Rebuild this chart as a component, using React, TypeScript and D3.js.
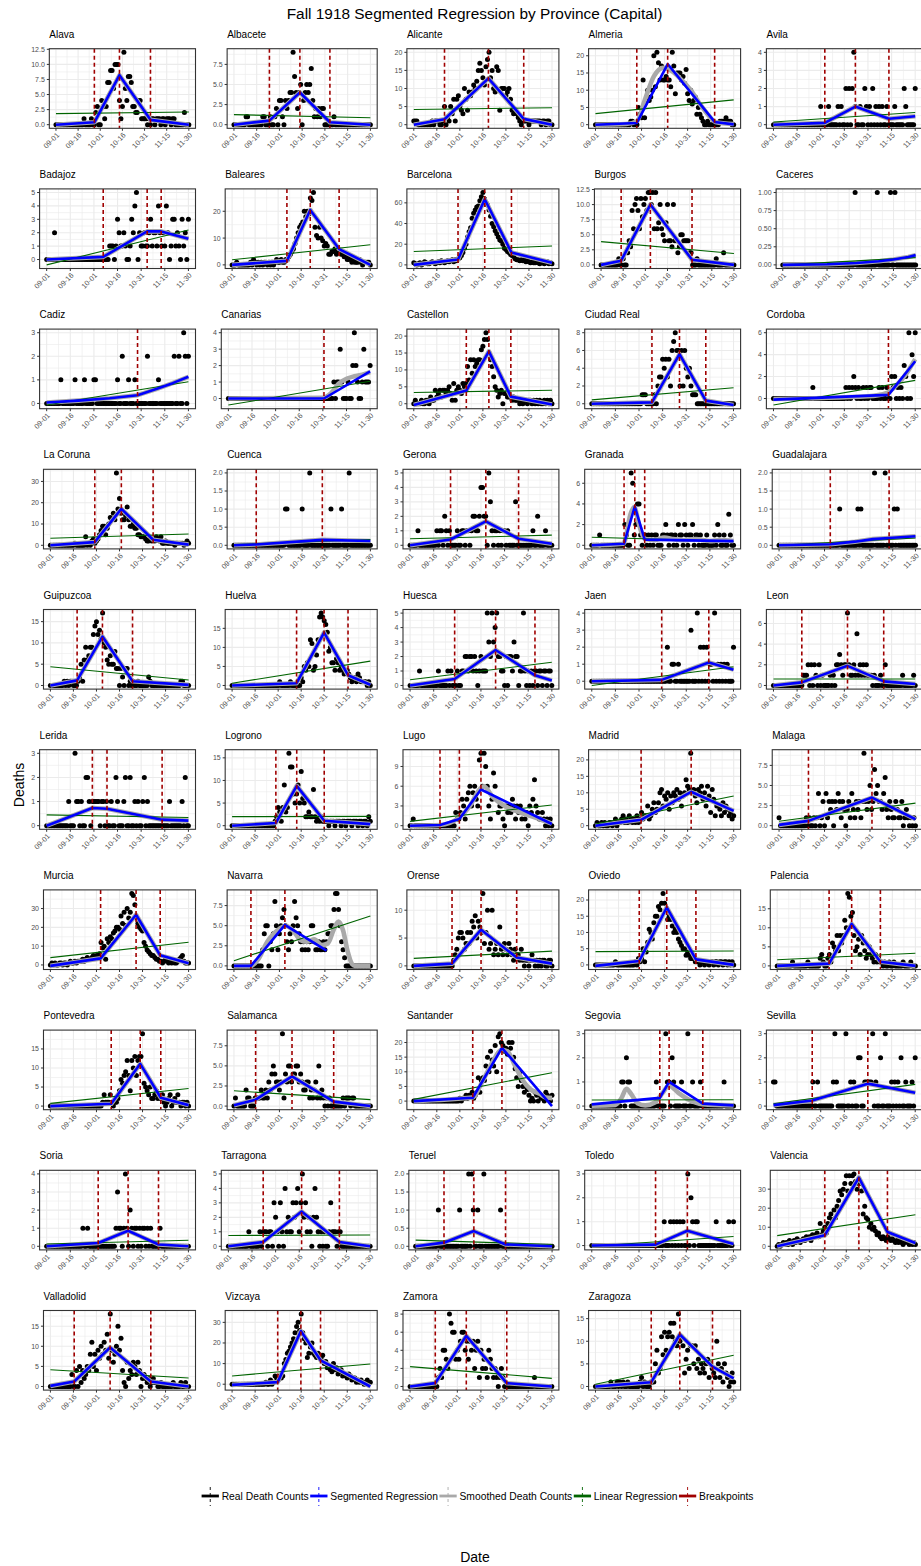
import React from "react";
import * as d3 from "d3";

// ---------------------------------------------------------------------------
// Data: Fall 1918 influenza deaths in Spanish provincial capitals.
// Day index 0 = 1 September 1918, day 90 = 30 November 1918.
// ---------------------------------------------------------------------------

const PROVINCES = [
  "Alava", "Albacete", "Alicante", "Almeria", "Avila",
  "Badajoz", "Baleares", "Barcelona", "Burgos", "Caceres",
  "Cadiz", "Canarias", "Castellon", "Ciudad Real", "Cordoba",
  "La Coruna", "Cuenca", "Gerona", "Granada", "Guadalajara",
  "Guipuzcoa", "Huelva", "Huesca", "Jaen", "Leon",
  "Lerida", "Logrono", "Lugo", "Madrid", "Malaga",
  "Murcia", "Navarra", "Orense", "Oviedo", "Palencia",
  "Pontevedra", "Salamanca", "Santander", "Segovia", "Sevilla",
  "Soria", "Tarragona", "Teruel", "Toledo", "Valencia",
  "Valladolid", "Vizcaya", "Zamora", "Zaragoza",
];

// Daily death counts (91 days per province)
const DAILY_DEATHS = [
  "0 0 0 0 0 0 0 0 0 0  0 0 0 0 0 0 0 0 0 1  0 0 0 0 1 0 0 2 3 0  0 4 3 1 3 7 7 9 9 6  10 10 10 4 1 3 12 6 4 8  8 7 3 3 2 2 4 4 1 1  1 1 0 1 0 1 1 0 1 1  1 0 1 1 0 1 1 1 0 1  1 0 0 0 0 0 0 2 0 0 0",
  "0 0 0 0 0 0 0 0 1 1  0 0 0 0 0 0 0 0 0 1  1 0 0 0 1 0 0 1 2 0  3 3 1 0 3 2 3 4 4 9  6 4 2 4 5 0 3 4 5 4  5 7 3 1 2 1 2 1 2 2  0 0 0 0 0 0 1 0 0 0  0 0 0 0 0 0 0 0 0 0  0 0 0 0 0 0 0 0 0 0 0",
  "1 1 1 0 0 0 0 0 0 0  0 0 1 0 1 1 1 0 0 1  5 0 2 1 5 3 7 1 7 8  5 4 3 10 7 4 9 8 9 11  10 12 15 17 15 13 11 16 18 20  13 15 10 9 16 15 4 10 10 10  8 9 10 7 4 3 4 3 2 1  0 1 1 1 1 0 1 1 1 1  1 1 1 0 1 1 0 1 1 0 0",
  "0 0 0 0 0 0 0 0 0 0  0 0 0 0 0 0 0 0 0 0  0 0 0 1 1 0 0 0 5 3  2 13 2 7 10 7 8 10 20 11  21 18 13 17 13 13 14 13 13 11  21 17 9 15 15 15 13 14 12 16  9 7 10 6 7 8 3 5 3 2  1 0 0 1 0 0 0 0 0 0  0 1 1 1 1 2 1 1 1 0 0",
  "0 0 0 0 0 0 0 0 0 0  0 0 0 0 0 0 0 0 0 0  0 0 0 0 0 0 0 0 0 0  1 0 0 0 0 1 0 0 0 0  0 1 0 1 0 0 2 0 2 0  2 4 1 0 0 1 0 0 2 1  0 1 0 2 0 1 0 1 0 1  0 0 1 0 0 0 0 1 0 0  0 0 0 2 1 0 0 0 0 0 2",
  "0 0 0 0 0 2 0 0 0 0  0 0 0 0 0 0 0 0 0 0  0 0 0 0 0 0 0 0 0 0  0 0 0 0 0 0 0 0 0 0  1 1 1 0 1 3 2 1 1 2  1 0 0 1 3 2 4 5 0 2  1 1 2 1 1 2 3 1 2 2  1 4 2 1 2 1 4 2 0 1  3 3 1 2 1 0 3 1 2 0 3",
  "0 0 0 1 0 0 0 0 0 0  0 0 1 0 2 1 0 1 0 1  0 1 1 0 1 0 1 0 1 2  1 1 2 1 1 2 2 3 4 5  6 8 10 12 14 15 16 20 18 20  19 25 24 27 14 11 10 14 10 9  7 8 7 4 4 5 5 6 4 5  5 4 4 3 3 2 2 3 1 2  1 1 1 2 1 0 1 1 1 1 0",
  "2 1 0 1 2 0 1 3 2 1  1 2 3 2 1 2 3 2 4 3  2 3 4 3 4 5 3 5 4 6  7 9 12 16 20 27 32 36 45 50  53 56 57 62 66 70 64 60 58 53  47 40 37 33 30 27 24 23 20 16  15 13 12 10 9 8 6 5 5 4  5 4 5 3 4 3 2 3 2 2  3 2 1 2 2 1 2 3 1 2 1",
  "0 0 0 0 0 0 0 0 0 0  0 0 1 0 0 1 0 0 2 4  3 9 6 10 11 9 6 11 8 10  11 9 12 12 10 12 6 12 6 7  10 6 5 4 7 10 4 4 3 10  4 4 2 3 5 5 4 4 4 4  2 2 0 0 0 1 0 0 0 0  0 0 0 0 0 0 0 0 1 0  0 0 0 2 0 0 0 0 0 0 0",
  "0 0 0 0 0 0 0 0 0 0  0 0 0 0 0 0 0 0 0 0  0 0 0 0 0 0 0 0 0 0  0 0 0 0 0 0 0 0 0 0  0 0 0 0 0 0 0 0 0 1  0 0 0 0 0 0 0 0 0 0  0 0 0 0 1 0 0 0 0 0  0 0 0 1 0 0 1 0 0 0  0 0 0 0 0 0 0 0 0 0 0",
  "0 0 0 0 0 0 0 0 0 1  0 0 0 0 0 0 0 0 1 0  0 0 0 0 1 0 0 0 0 0  1 1 0 0 0 0 0 0 0 0  0 0 0 0 0 1 0 0 2 0  0 0 1 0 0 0 1 0 0 0  0 0 0 0 2 0 0 0 0 0  0 1 0 0 0 0 0 0 0 0  0 2 0 0 2 0 0 3 2 0 2",
  "0 0 0 0 0 0 0 0 0 0  0 0 0 0 0 0 0 0 0 0  0 0 0 0 0 0 0 0 0 0  0 0 0 0 0 0 0 0 0 0  0 0 0 0 0 0 0 0 0 0  0 0 0 0 0 0 0 0 0 0  0 0 0 0 0 0 0 1 0 1  1 3 1 0 0 0 1 0 0 2  4 2 1 0 0 1 3 1 1 1 2",
  "0 1 0 0 0 1 0 0 1 1  0 2 1 1 4 2 3 4 2 4  4 3 4 5 3 1 6 1 4 5  4 3 6 5 6 11 7 13 9 13  11 12 13 13 16 17 19 21 19 15  13 11 8 5 4 2 3 4 0 3  3 2 2 2 1 2 1 1 1 0  1 0 1 1 0 1 1 0 1 0  1 0 1 0 0 1 0 1 0 1 0",
  "0 0 0 0 0 0 0 0 0 0  0 0 0 0 0 0 0 0 0 0  0 0 0 0 0 0 0 0 0 0  0 0 1 1 1 0 0 0 0 0  1 0 2 3 3 5 4 5 3 5  2 6 7 8 6 6 2 6 2 6  4 3 4 2 1 1 1 0 0 0  0 0 0 0 0 0 0 0 0 0  0 0 0 0 0 0 0 0 0 0 0",
  "0 0 0 0 0 0 0 0 0 0  0 0 0 0 0 0 0 0 0 0  0 0 0 0 0 1 0 0 0 0  0 0 0 0 0 0 0 0 0 0  0 0 0 0 0 0 1 0 1 0  1 2 1 0 1 0 0 1 0 1  0 1 1 0 0 0 0 1 0 1  0 0 1 0 0 2 1 2 0 1  0 1 0 3 2 0 6 0 4 2 6",
  "0 0 0 0 0 0 0 0 0 0  0 0 0 0 0 0 1 0 0 0  0 0 0 4 0 1 0 2 3 1  2 3 5 7 9 9 5 8 10 13  12 15 12 34 17 22 15 12 12 14  18 12 9 9 10 8 8 5 5 4  4 4 3 2 2 3 2 3 2 4  3 2 4 1 1 2 1 1 1 1  1 0 1 1 1 1 1 0 1 2 1",
  "0 0 0 0 0 0 0 0 0 0  0 0 0 0 0 0 0 0 0 0  0 0 0 0 0 0 0 0 0 0  0 0 0 0 1 1 0 0 0 0  0 0 0 0 0 1 0 0 0 0  2 0 0 0 0 0 0 0 0 0  0 0 0 0 1 0 0 0 0 0  0 1 0 0 0 0 2 0 0 0  0 0 0 0 0 0 0 0 0 0 0",
  "0 0 0 0 0 1 0 0 0 0  0 0 0 0 0 0 0 1 0 1  1 0 2 1 0 1 0 0 0 0  1 0 0 1 1 0 1 1 0 1  2 2 1 1 2 4 4 2 2 0  5 3 1 0 1 1 0 1 0 1  1 0 1 0 0 0 0 3 0 0  0 0 0 0 0 0 0 0 1 0  0 2 0 0 0 0 1 0 0 0 0",
  "0 0 0 0 0 1 0 0 0 0  0 0 0 0 0 0 0 0 0 0  0 2 1 0 0 7 6 1 2 4  4 1 0 1 1 0 1 0 1 0  1 1 0 0 0 1 1 2 1 0  1 1 0 1 0 2 1 1 0 2  1 0 1 1 2 0 1 1 0 1  0 0 0 1 0 0 0 0 1 0  2 1 0 0 1 0 0 3 1 0 0",
  "0 0 0 0 0 0 0 0 0 0  0 0 0 0 0 0 0 0 0 0  0 0 0 0 0 0 0 0 0 0  0 0 0 0 0 0 0 0 0 0  1 0 0 0 0 0 0 0 0 0  0 0 1 0 1 0 0 0 0 0  0 0 0 2 0 0 0 0 0 0  2 0 0 0 0 0 1 0 1 0  0 0 0 0 0 0 0 0 0 0 0",
  "0 0 0 0 0 0 0 0 0 1  0 1 0 1 1 0 0 0 1 2  5 1 6 9 6 7 9 9 12 14  15 12 13 11 17 10 9 6 5 7  5 5 8 4 4 0 4 2 0 4  4 0 1 0 1 0 0 1 0 0  0 0 0 0 2 1 0 0 0 0  0 0 0 0 0 0 0 0 0 0  0 0 0 0 0 1 1 0 0 0 0",
  "0 0 0 0 0 0 0 0 0 0  0 0 0 0 0 0 0 0 0 0  0 0 0 0 0 0 0 0 0 0  0 1 0 0 0 0 0 0 1 0  0 0 0 0 0 2 1 5 4 6  5 12 11 4 5 8 12 18 19 18  17 16 14 9 10 6 6 4 7 6  4 5 4 3 4 4 3 2 1 2  2 1 3 2 1 1 1 1 0 1 0",
  "0 0 0 0 0 0 1 0 0 0  0 0 0 0 0 0 0 0 1 0  0 0 0 0 1 0 1 0 0 0  1 0 0 1 1 2 2 1 2 2  1 2 1 0 1 2 1 1 1 5  3 2 5 3 4 5 2 2 1 1  0 2 0 2 2 1 3 2 2 0  1 1 5 1 0 1 0 1 0 1  1 0 1 1 0 1 1 0 1 1 0",
  "0 0 0 0 0 0 0 0 0 0  0 0 0 0 0 0 0 0 0 0  0 0 0 0 0 0 0 0 0 0  0 0 0 0 0 0 0 0 0 0  0 0 0 0 0 0 0 0 2 0  0 1 1 0 0 1 0 0 0 0  0 0 0 3 0 0 0 4 0 2  0 2 0 2 0 1 1 0 4 0  1 0 1 0 1 0 1 0 0 0 2",
  "0 0 0 0 0 0 0 0 0 0  0 0 0 0 0 0 0 0 0 1  1 1 2 0 2 0 2 1 0 2  0 1 0 0 0 0 1 0 1 0  2 2 3 2 1 2 2 7 2 1  1 2 1 5 1 2 1 2 1 2  1 1 1 0 1 0 0 0 1 0  0 2 0 0 0 0 0 0 0 0  0 0 1 0 0 0 0 0 0 1 0",
  "0 0 0 0 0 0 0 0 0 0  0 0 0 0 1 0 0 0 3 1  1 0 1 0 0 2 2 1 0 1  1 1 1 1 0 1 1 0 1 0  0 1 0 0 2 1 0 0 0 1  2 0 0 2 0 0 1 0 1 0  0 1 2 0 1 0 0 0 0 0  0 0 0 0 0 0 0 0 1 0  0 0 0 0 0 0 1 0 2 0 0",
  "0 0 0 0 0 0 0 0 0 0  0 0 0 0 0 0 0 0 0 0  0 0 0 0 0 0 0 0 1 2  4 3 1 4 9 3 4 16 13 13  7 5 7 9 5 12 6 5 2 2  3 2 2 8 2 1 2 1 2 1  1 1 1 0 1 1 1 0 1 1  1 0 1 1 0 1 1 1 0 1  1 1 0 1 1 0 1 1 0 2 1",
  "0 0 1 0 0 0 0 0 0 0  0 0 0 0 0 0 0 0 0 0  0 0 0 0 0 0 0 0 0 2  1 1 2 4 3 1 4 5 6 3  5 6 4 3 10 11 6 11 9 6  3 1 4 8 6 4 2 3 3 1  0 3 2 3 2 4 3 1 3 2  3 1 2 1 2 0 3 2 4 7  3 2 1 1 2 1 0 1 0 1 0",
  "0 1 0 0 1 0 1 0 0 1  1 0 1 2 0 1 1 2 3 1  2 1 3 2 1 2 1 3 1 2  4 2 3 3 6 2 3 5 7 4  5 7 10 11 6 9 8 10 5 9  7 10 9 11 8 10 6 9 10 14  12 11 22 10 11 9 7 11 10 12  8 10 6 12 9 4 11 8 3 6  6 5 3 7 4 6 5 3 4 2 3",
  "1 0 0 0 0 0 0 0 0 0  0 0 0 0 0 0 0 0 1 0  1 0 0 1 0 1 4 0 1 3  0 4 1 3 2 3 0 3 2 4  3 1 3 2 0 2 3 1 4 2  1 3 2 3 1 3 9 3 2 3  5 2 3 7 4 5 3 3 2 4  6 2 1 3 2 1 1 3 2 1  1 3 0 1 2 1 0 1 0 1 0",
  "0 1 0 1 0 0 1 1 0 1  1 0 1 2 1 1 2 1 2 2  2 3 2 3 4 3 3 4 5 4  5 4 6 12 9 10 3 14 12 15  14 17 18 20 20 19 26 22 28 21  30 25 28 38 37 32 25 22 20 19  18 12 10 8 7 6 5 5 4 3  3 2 2 1 2 3 2 1 2 1  2 1 1 2 3 4 5 2 1 1 1",
  "0 0 0 0 0 0 0 0 0 0  0 0 0 0 0 0 0 0 0 2  4 5 5 0 3 2 4 8 5 2  4 5 6 7 5 3 2 4 3 5  8 6 5 4 3 2 3 2 3 2  3 5 5 3 2 2 3 2 2 3  2 3 4 4 5 5 7 9 9 7  5 3 2 1 0 0 0 0 0 0  0 0 0 0 0 0 0 0 0 0 0",
  "0 0 0 0 0 0 0 0 0 0  0 0 0 0 0 0 0 0 0 0  0 0 0 0 0 0 1 2 3 5  6 6 5 3 4 6 4 6 8 7  9 5 8 7 6 13 4 6 10 3  4 10 2 3 4 2 7 3 2 4  3 2 4 3 2 1 3 2 2 1  3 1 0 1 1 0 1 2 1 0  1 0 1 0 1 1 0 0 1 1 0",
  "0 0 0 0 0 0 0 0 0 0  0 0 0 1 0 0 0 0 0 0  0 0 0 0 0 0 1 0 2 1  2 5 1 4 7 11 10 8 13 15  15 18 17 19 22 19 17 14 15 14  12 10 11 10 8 7 6 5 5 3  4 3 2 2 2 1 1 1 0 1  1 0 1 1 0 1 1 0 1 1  0 1 1 0 1 1 0 1 0 1 0",
  "0 0 0 0 0 0 0 0 0 0  1 0 0 0 0 0 0 0 0 0  1 0 0 0 0 0 0 0 2 3  1 0 0 2 3 1 6 5 4 8  4 8 6 8 12 10 19 18 13 14  8 4 5 7 3 8 6 4 2 3  5 3 2 1 3 1 2 1 1 0  1 0 0 1 0 0 1 0 0 0  0 0 1 0 0 0 0 1 0 0 0",
  "0 0 0 0 0 0 0 0 0 0  0 0 0 0 0 0 0 0 0 0  0 0 0 0 0 0 0 0 0 0  0 0 0 0 1 3 1 1 1 3  1 0 1 1 2 4 7 6 8 9  12 8 4 12 10 13 8 12 13 13  19 6 5 4 3 5 2 2 3 4  2 3 2 3 1 0 1 2 3 0  1 2 1 3 1 0 1 1 0 1 0",
  "0 1 0 0 0 0 0 0 2 1  1 0 0 0 1 1 1 1 2 1  1 2 1 3 2 4 5 4 3 3  2 3 9 1 4 3 5 5 3 4  4 5 5 3 4 3 2 2 3 3  1 2 1 2 3 1 5 1 2 1  0 1 0 1 0 0 0 0 0 0  0 0 1 0 1 1 1 0 1 1  0 0 0 0 0 0 0 0 0 0 0",
  "0 0 0 0 0 0 0 0 0 0  0 0 0 0 0 0 0 0 0 0  0 0 0 0 0 0 0 0 0 0  1 0 1 1 2 1 2 2 3 1  2 3 8 3 7 8 7 12 15 10  17 14 12 19 10 22 23 20 19 17  18 16 20 18 20 15 11 8 5 10  7 5 3 5 4 2 0 1 0 3  2 0 2 1 1 0 3 2 1 0 2",
  "0 0 0 0 0 0 0 0 0 0  0 0 0 0 0 0 0 0 0 1  1 0 2 1 1 0 0 0 0 0  0 0 0 0 0 0 0 0 0 0  0 1 0 0 0 0 0 3 1 1  0 2 1 0 0 0 0 1 0 0  0 3 0 0 1 0 0 0 0 1  0 0 0 0 0 0 0 0 0 0  0 0 0 0 1 0 0 0 0 0 0",
  "1 1 0 0 0 0 0 0 0 0  0 0 0 0 0 0 0 0 0 0  0 0 0 0 0 1 0 0 1 0  0 0 0 0 0 0 0 0 1 3  1 0 0 0 0 0 3 0 0 1  0 1 0 0 2 2 0 0 1 1  1 1 1 3 0 1 0 0 2 0  0 3 0 0 0 1 0 1 0 1  0 2 0 0 1 0 0 0 1 0 2",
  "0 0 0 0 0 0 0 0 0 0  0 0 0 0 0 0 0 0 0 0  0 0 0 1 0 0 1 0 0 0  0 0 0 0 0 0 0 0 0 0  0 0 0 0 1 3 1 1 0 1  4 1 0 2 1 0 1 1 0 1  0 1 1 0 1 0 1 0 0 0  0 0 1 0 0 0 0 0 0 0  0 0 0 0 0 0 0 0 0 0 0",
  "0 0 0 0 0 0 0 0 0 0  0 0 0 1 0 0 0 0 0 0  1 0 1 1 1 0 1 1 0 3  2 1 0 3 1 0 4 1 2 1  1 3 2 3 4 1 3 5 2 3  1 2 1 0 2 4 2 1 0 1  0 1 0 0 1 3 1 1 1 0  1 1 0 0 0 0 0 0 0 0  0 0 0 0 0 0 0 0 0 0 0",
  "0 0 0 0 0 0 0 0 0 0  0 0 0 0 0 1 0 0 0 0  0 0 0 0 0 0 0 0 0 1  0 0 0 0 0 2 0 2 1 0  0 1 0 0 0 2 0 0 0 0  0 0 0 0 0 0 1 0 0 0  0 0 0 0 0 0 0 0 0 0  0 0 0 0 0 0 0 0 0 0  0 0 0 0 0 0 0 0 0 0 0",
  "0 0 0 0 0 0 0 0 0 0  0 0 0 0 0 0 0 0 0 0  0 0 0 0 0 0 0 0 0 0  0 0 0 0 0 0 0 0 0 0  0 0 0 0 0 0 1 0 0 0  1 0 1 0 1 0 1 0 1 0  0 3 0 2 1 0 1 1 0 0  0 0 0 0 0 0 0 0 0 1  0 0 0 0 0 0 0 1 0 0 1",
  "0 1 0 1 2 1 2 1 3 2  1 3 2 4 3 2 3 4 3 5  4 5 3 6 5 6 7 5 12 6  8 10 7 12 15 17 14 19 15 21  24 29 27 30 33 37 29 37 33 37  38 34 30 33 33 29 17 21 15 14  10 12 9 10 8 6 7 5 4 5  4 3 5 4 3 4 3 2 3 2  3 2 1 2 3 2 1 2 1 2 1",
  "0 0 0 0 0 0 0 0 0 0  0 0 0 0 3 0 0 4 0 5  1 4 2 3 5 4 8 11 5 8  4 9 7 10 8 11 9 13 7 18  9 6 8 10 15 9 12 4 1 0  6 2 4 3 6 5 3 6 4 0  2 3 2 1 2 0 1 2 1 1  0 0 1 0 0 0 0 0 0 0  1 0 0 0 0 1 0 0 1 0 0",
  "0 0 0 0 0 0 0 0 0 0  0 0 0 0 0 0 0 0 0 0  0 0 1 0 0 2 0 1 4 3  2 4 3 4 10 12 15 16 18 20  22 25 28 30 26 34 25 22 20 13  15 18 20 15 14 13 15 14 13 14  10 11 8 9 7 6 10 7 8 5  6 7 4 5 4 3 5 4 2 3  3 1 2 1 2 1 0 1 2 1 1",
  "0 0 0 0 0 0 0 0 0 0  0 0 0 0 0 0 0 0 1 2  1 4 4 3 2 8 7 6 6 3  4 3 5 6 6 4 5 3 5 4  5 2 4 5 1 4 2 3 2 1  4 3 2 1 2 1 0 1 2 1  0 0 0 0 0 0 0 0 0 0  0 0 0 0 0 0 0 0 0 1  0 0 0 0 0 0 0 0 0 0 0",
  "0 0 0 0 0 0 0 0 0 0  1 0 0 0 1 0 1 0 1 0  0 1 0 0 0 0 0 0 0 1  2 0 1 0 0 0 1 1 1 5  8 3 4 11 7 12 8 11 12 14  11 14 10 9 16 10 11 9 3 6  8 4 9 9 5 9 4 6 3 5  4 3 5 6 2 5 4 3 2 10  5 2 4 1 5 3 2 0 1 3 1",
];

// Estimated breakpoints (day index)
const BREAKPOINTS: number[][] = [
  [26, 43, 64], [23.4, 43.5, 63.3], [20, 48.6, 71.6], [26.9, 47, 77.6], [32.6, 52, 73.3],
  [35.9, 63.8, 72.7], [35.7, 50.9, 69.7], [28.8, 46.2, 63.6], [13.6, 33.4, 61.6], [],
  [57.7], [60.7], [34.2, 48.9, 63.2], [38.2, 55.7, 72.4], [73],
  [28.9, 46.2, 66.9], [14.7, 58.3], [25.7, 48.1, 68.9], [20.5, 27.3, 33.6], [33.8, 72.6],
  [17.4, 33.9, 53.5], [42, 59.9, 75.5], [28.3, 54.3, 79.3], [44.4, 74.3], [18, 47, 70],
  [29, 38.3, 73.3], [28.5, 42.1, 60], [19, 31.3, 45], [29.7, 62.3], [19.4, 61.3],
  [32.7, 55.8, 71.5], [11.2, 33.6], [24.9, 43.8, 67], [28.5, 46.4, 65.4], [33.8, 48.5, 67.2],
  [39.6, 58.5, 71.9], [14.3, 38.3, 65.8], [38.4, 57.4], [43.2, 49.1, 70.5], [24.6, 59.9],
  [32.7, 51.7, 71], [22.1, 46.5, 70.5], [18.7, 38.4, 59.3], [40.5, 60.7], [31, 53.2, 71.8],
  [15.5, 38.9, 65.4], [29.7, 44.8, 57.6], [16, 35.7, 61.4], [36.3, 54.9, 76.2],
];

// Segmented regression fit: [day, deaths] vertices
const SEGMENTED: [number, number][][] = [
  [[0, 0], [26, 0.4], [43, 8.2], [64, 0.8], [90, 0]],
  [[0, 0], [23.4, 0.5], [43.5, 4.0], [63.3, 0.3], [90, 0]],
  [[0, 0], [20, 1.5], [48.6, 12.8], [71.6, 1.6], [90, 0]],
  [[0, 0], [26.9, 0.5], [47, 17.6], [77.6, 0.8], [90, 0.1]],
  [[0, 0], [32.6, 0.1], [52, 1.0], [73.3, 0.33], [90, 0.47]],
  [[0, 0], [35.9, 0.2], [63.8, 2.1], [72.7, 2.1], [90, 1.55]],
  [[0, 0], [35.7, 1.5], [50.9, 20.5], [69.7, 5.9], [90, 0]],
  [[0, 0], [28.8, 5.2], [46.2, 63.5], [63.6, 12], [90, 2]],
  [[0, 0], [13.6, 0.7], [33.4, 10], [61.6, 0.85], [90, 0]],
  [[0, 0], [30, 0.008], [50, 0.025], [65, 0.05], [75, 0.075], [85, 0.11], [90, 0.135]],
  [[0, 0.04], [20, 0.12], [40, 0.22], [57.7, 0.35], [70, 0.62], [80, 0.86], [90, 1.13]],
  [[0, 0], [60.7, 0], [90, 1.65]],
  [[0, -0.4], [34.2, 3.9], [48.9, 15.5], [63.2, 2.1], [90, -0.2]],
  [[0, 0], [38.2, 0.15], [55.7, 5.6], [72.4, 0.35], [90, -0.15]],
  [[0, -0.1], [73, 0.33], [90, 3.4]],
  [[0, 0], [28.9, 1.5], [46.2, 17.1], [66.9, 2.6], [90, 0.3]],
  [[0, 0], [14.7, 0.02], [58.3, 0.15], [90, 0.12]],
  [[0, 0], [25.7, 0.4], [48.1, 1.65], [68.9, 0.45], [90, 0.1]],
  [[0, 0], [20.5, 0.15], [27.3, 3.75], [33.6, 0.55], [90, 0.4]],
  [[0, 0], [33.8, 0.03], [50, 0.1], [62, 0.17], [72.6, 0.2], [90, 0.25]],
  [[0, 0], [17.4, 1.2], [33.9, 11.5], [53.5, 1.0], [90, 0.15]],
  [[0, 0], [42, 0.6], [59.9, 13.9], [75.5, 2.7], [90, 0.2]],
  [[0, 0], [28.3, 0.45], [54.3, 2.45], [79.3, 0.7], [90, 0.35]],
  [[0, 0], [44.4, 0.08], [74.3, 1.1], [90, 0.68]],
  [[0, 0], [18, 0.3], [47, 1.9], [70, 0.4], [90, 0.15]],
  [[0, 0], [29, 0.73], [38.3, 0.7], [73.3, 0.25], [90, 0.21]],
  [[0, 0], [28.5, 0.6], [42.1, 8.8], [60, 1.1], [90, 0.35]],
  [[0, 0], [19, 0.1], [31.3, 1.0], [45, 5.5], [90, 0.25]],
  [[0, 0], [29.7, 1.8], [62.3, 10.3], [90, 4.5]],
  [[0, 0.1], [19.4, 0.6], [61.3, 3.5], [90, 0.8]],
  [[0, -0.5], [32.7, 3.5], [55.8, 26.7], [71.5, 5.1], [90, 0.9]],
  [[0, 0], [11.2, 0], [33.6, 5.1], [61.1, 1.9]],
  [[0, 0], [24.9, 0.4], [43.8, 6.5], [67, 1.5], [90, 0.4]],
  [[0, -0.3], [28.5, 1.2], [46.4, 17.7], [65.4, 1.7], [90, 0]],
  [[0, 0], [33.8, 0.6], [48.5, 11], [67.2, 1.1], [90, 0]],
  [[0, 0], [39.6, 0.6], [58.5, 11.1], [71.9, 2.2], [90, 0.25]],
  [[0, 0.1], [14.3, 0.8], [38.3, 3.7], [65.8, 0.55], [90, 0]],
  [[0, 0], [38.4, 1.15], [57.4, 18.2], [90, -1.7]],
  [[0, 0.07], [43.2, 0.34], [49.1, 1.0], [70.5, 0.1], [90, 0.03]],
  [[0, 0.04], [24.6, 0.23], [59.9, 0.93], [90, 0.55]],
  [[0, 0], [32.7, 0.18], [51.7, 0.86], [71, 0.1], [90, 0]],
  [[0, 0], [22.1, 0.3], [46.5, 2.4], [70.5, 0.3], [90, 0]],
  [[0, 0], [18.7, 0.1], [38.4, 0.42], [59.3, 0.05], [90, 0]],
  [[0, 0], [40.5, 0.04], [60.7, 0.62], [90, 0.07]],
  [[0, 0], [31, 5.8], [53.2, 36.1], [71.8, 7.5], [90, 1.7]],
  [[0, 0.15], [15.5, 1.25], [38.9, 9.7], [65.4, 1.25], [90, 0]],
  [[0, -0.3], [29.7, 1.0], [44.8, 25.8], [57.6, 11.6], [90, -1.1]],
  [[0, 0], [16, 0.37], [35.7, 5.6], [61.4, 0.37], [90, 0]],
  [[0, 0], [36.3, 0.95], [54.9, 11.5], [76.2, 4.4], [90, 1.8]],
];

// Linear regression fit: deaths at day 0 and day 90
const LINEAR: [number, number][] = [
  [1.83, 2.1], [1.25, 0.87], [4.2, 4.7], [3.2, 7.2], [0.15, 0.67],
  [-0.4, 2.2], [1.9, 7.5], [13, 18.2], [3.85, 1.9], [0.0, 0.1],
  [-0.07, 0.92], [-0.4, 1.05], [3.3, 4.0], [0.44, 1.8], [-0.6, 1.65],
  [3.3, 5.3], [0.02, 0.16], [0.45, 0.7], [0.78, 0.38], [0.0, 0.2],
  [4.4, 1.3], [0.6, 6.4], [0.4, 1.6], [-0.25, 0.85], [0.62, 0.62],
  [0.45, 0.34], [2.0, 2.05], [0.65, 3.15], [0.5, 9.0], [0.55, 2.8],
  [3.9, 12.1], [0.65, 6.2], [1.35, 2.65], [4.1, 4.3], [1.6, 3.3],
  [0.7, 4.6], [1.9, 0.8], [0.6, 9.7], [0.25, 0.26], [0.1, 0.9],
  [0.13, 0.33], [0.75, 0.78], [0.17, 0.05], [-0.03, 0.38], [5.6, 16.6],
  [4.15, 2.1], [4.0, 9.8], [2.2, 0.9], [0.5, 6.9],
];

// Smoothed death counts where they depart from the segmented fit
const SMOOTHED: Record<string, [number, number][]> = {
  Almeria: [[0, 0], [20, 0.2], [27, 1], [32, 7], [38, 14], [44, 16.5], [50, 15.5], [56, 13], [62, 10], [68, 6], [74, 2.5], [78, 0.8], [90, 0.2]],
  Canarias: [[0, 0], [60, 0.05], [65, 0.3], [70, 0.9], [75, 1.2], [80, 1.35], [85, 1.45], [90, 1.6]],
  Cordoba: [[0, -0.05], [60, 0.2], [72, 0.5], [78, 1.2], [84, 2.2], [90, 3.6]],
  Granada: [[0, 0], [20, 0.15], [25, 3.2], [27, 3.7], [30, 2], [34, 0.6], [40, 0.5], [46, 0.75], [52, 0.6], [58, 0.5], [66, 0.6], [75, 0.4], [82, 0.5], [90, 0.4]],
  Lugo: [[0, 0], [19, 0.1], [31, 1.2], [38, 3], [44, 5.5], [47, 6], [52, 4.5], [60, 3], [70, 2], [80, 1.2], [90, 0.3]],
  Navarra: [[0, 0], [11, 0], [16, 0.8], [22, 3], [30, 4.6], [34, 5], [39, 4.4], [44, 3.2], [48, 3], [53, 3.3], [58, 2.6], [62, 2.8], [66, 4.6], [69, 5.5], [72, 4.4], [75, 1.8], [78, 0.2], [80, 0], [90, 0]],
  Santander: [[0, 0], [38, 1.2], [45, 7], [52, 14], [57, 17.5], [61, 17], [66, 12], [71, 7], [76, 4], [82, 2.5], [86, 1.2], [90, 1]],
  Segovia: [[0, 0.02], [15, 0.05], [19, 0.35], [22, 0.72], [25, 0.5], [29, 0.12], [34, 0.03], [40, 0.15], [45, 0.55], [49, 0.85], [55, 0.55], [62, 0.25], [70, 0.08], [90, 0.03]],
};

// Y-axis tick labels per province
const Y_TICKS = [
  "0.0 2.5 5.0 7.5 10.0 12.5", "0.0 2.5 5.0 7.5", "0 5 10 15 20", "0 5 10 15 20", "0 1 2 3 4",
  "0 1 2 3 4 5", "0 10 20", "0 20 40 60", "0.0 2.5 5.0 7.5 10.0 12.5", "0.00 0.25 0.50 0.75 1.00",
  "0 1 2 3", "0 1 2 3 4", "0 5 10 15 20", "0 2 4 6 8", "0 2 4 6",
  "0 10 20 30", "0.0 0.5 1.0 1.5 2.0", "0 1 2 3 4 5", "0 2 4 6", "0.0 0.5 1.0 1.5 2.0",
  "0 5 10 15", "0 5 10 15", "0 1 2 3 4 5", "0 1 2 3 4", "0 2 4 6",
  "0 1 2 3", "0 5 10 15", "0 3 6 9", "0 5 10 15 20", "0.0 2.5 5.0 7.5",
  "0 10 20 30", "0.0 2.5 5.0 7.5", "0 5 10", "0 5 10 15 20", "0 5 10 15",
  "0 5 10 15", "0.0 2.5 5.0 7.5", "0 5 10 15 20", "0 1 2 3", "0 1 2 3",
  "0 1 2 3 4", "0 1 2 3 4 5", "0.0 0.5 1.0 1.5 2.0", "0 1 2 3", "0 10 20 30",
  "0 5 10 15", "0 10 20 30", "0 2 4 6 8", "0 5 10 15",
];

const X_TICK_DAYS = [0, 15, 30, 45, 60, 75, 90];
const X_TICK_LABELS = ["09-01", "09-16", "10-01", "10-16", "10-31", "11-15", "11-30"];

const LEGEND_LABELS = ["Real Death Counts", "Segmented Regression", "Smoothed Death Counts", "Linear Regression", "Breakpoints"];

// ---------------------------------------------------------------------------
// Styling and layout
// ---------------------------------------------------------------------------
const W = 921;
const H = 1566;
const FONT = "'Liberation Sans', Arial, Helvetica, sans-serif";
const COLORS = {
  points: "#000000",
  segmented: "#0000FF",
  smoothed: "#A9A9A9",
  linear: "#006400",
  breaks: "#A00000",
};
const LEGEND_COLORS = [COLORS.points, COLORS.segmented, COLORS.smoothed, COLORS.linear, COLORS.breaks];

const NCOL = 5;
const COL_STEP = 181.7;
const ROW_STEP = 140.2;
const PANEL_TOP0 = 48.7;
const PANEL_H = 79.6;
const PANEL_RIGHT0 = 195.5;
const CELL_LEFT0 = 23;
const AXIS_PAD = 12.7;
const TICK_FONT = 7;
const XTICK_FONT = 7.4;
const TICK_LEN = 2.5;

const charWidth = (c: string) => (c === "." ? 0.278 : c === "-" ? 0.333 : 0.556);
const labelWidth = (s: string, size: number) => s.split("").reduce((w, c) => w + charWidth(c), 0) * size;

function measure(text: string, size: number): number {
  try {
    const ctx = document.createElement("canvas").getContext("2d");
    if (ctx) {
      ctx.font = `${size}px ${FONT}`;
      return ctx.measureText(text).width;
    }
  } catch (e) {
    /* fall through */
  }
  return text.length * size * 0.52;
}

function Panel({ index }: { index: number }) {
  const name = PROVINCES[index];
  const col = index % NCOL;
  const row = Math.floor(index / NCOL);
  const counts = DAILY_DEATHS[index].trim().split(/\s+/).map(Number);
  const tickLabels = Y_TICKS[index].split(" ");
  const seg = SEGMENTED[index];
  const lin = LINEAR[index];
  const smooth = SMOOTHED[name];
  const greyPts = smooth ?? seg;
  const linPts: [number, number][] = [[0, lin[0]], [90, lin[1]]];

  const maxLabel = d3.max(tickLabels, (s) => labelWidth(s, TICK_FONT)) ?? 0;
  const left = CELL_LEFT0 + col * COL_STEP + AXIS_PAD + maxLabel;
  const right = PANEL_RIGHT0 + col * COL_STEP;
  const top = PANEL_TOP0 + row * ROW_STEP;
  const bottom = top + PANEL_H;

  const allVals = [...counts, ...seg.map((d) => d[1]), ...lin, ...greyPts.map((d) => d[1])];
  const lo = d3.min(allVals) as number;
  const hi = d3.max(allVals) as number;
  const pad = (hi - lo) * 0.05;

  const x = d3.scaleLinear().domain([-4.5, 94.5]).range([left, right]);
  const y = d3.scaleLinear().domain([lo - pad, hi + pad]).range([bottom, top]);
  const [yLo, yHi] = y.domain();

  const majorY = tickLabels.map(Number).filter((v) => v >= yLo && v <= yHi);
  const step = majorY.length > 1 ? majorY[1] - majorY[0] : 1;
  const minorY: number[] = [];
  if (majorY.length) {
    const first = majorY[0] - step / 2;
    if (first >= yLo) minorY.push(first);
    for (let k = 0; k < majorY.length - 1; k++) minorY.push((majorY[k] + majorY[k + 1]) / 2);
    const last = majorY[majorY.length - 1] + step / 2;
    if (last <= yHi) minorY.push(last);
  }
  const minorX = X_TICK_DAYS.slice(0, -1).map((d, k) => (d + X_TICK_DAYS[k + 1]) / 2);

  const line = d3.line<[number, number]>().x((d) => x(d[0])).y((d) => y(d[1]));
  const smoothLine = d3
    .line<[number, number]>()
    .x((d) => x(d[0]))
    .y((d) => y(d[1]))
    .curve(d3.curveMonotoneX);

  const clipId = `clip-${index}`;
  const fmtY = (v: number) => tickLabels[tickLabels.map(Number).indexOf(v)];

  return (
    <g>
      <defs>
        <clipPath id={clipId}>
          <rect x={left} y={top} width={right - left} height={bottom - top} />
        </clipPath>
      </defs>
      <text x={left} y={top - 11} fontSize={10} fill="#000">
        {name}
      </text>
      <rect x={left} y={top} width={right - left} height={bottom - top} fill="#fff" />
      <g clipPath={`url(#${clipId})`}>
        {minorX.map((d) => (
          <line key={`mx${d}`} x1={x(d)} x2={x(d)} y1={top} y2={bottom} stroke="#EBEBEB" strokeWidth={0.6} />
        ))}
        {minorY.map((v) => (
          <line key={`my${v}`} x1={left} x2={right} y1={y(v)} y2={y(v)} stroke="#EBEBEB" strokeWidth={0.6} />
        ))}
        {X_TICK_DAYS.map((d) => (
          <line key={`gx${d}`} x1={x(d)} x2={x(d)} y1={top} y2={bottom} stroke="#EBEBEB" strokeWidth={1.1} />
        ))}
        {majorY.map((v) => (
          <line key={`gy${v}`} x1={left} x2={right} y1={y(v)} y2={y(v)} stroke="#EBEBEB" strokeWidth={1.1} />
        ))}
        {counts.map((c, d) => (
          <circle key={`p${d}`} cx={x(d)} cy={y(c)} r={2.5} fill={COLORS.points} />
        ))}
        <path
          d={(smooth ? smoothLine(greyPts) : line(greyPts)) ?? ""}
          fill="none"
          stroke={COLORS.smoothed}
          strokeWidth={4.6}
          strokeLinejoin="round"
        />
        <path d={line(linPts) ?? ""} fill="none" stroke={COLORS.linear} strokeWidth={1.1} />
        <path d={line(seg) ?? ""} fill="none" stroke={COLORS.segmented} strokeWidth={2.6} strokeLinejoin="round" />
        {BREAKPOINTS[index].map((b) => (
          <line
            key={`bp${b}`}
            x1={x(b)}
            x2={x(b)}
            y1={top}
            y2={bottom}
            stroke={COLORS.breaks}
            strokeWidth={1.6}
            strokeDasharray="4,3"
          />
        ))}
      </g>
      <rect x={left} y={top} width={right - left} height={bottom - top} fill="none" stroke="#333333" strokeWidth={1.1} />
      {majorY.map((v) => (
        <g key={`yt${v}`}>
          <line x1={left - TICK_LEN} x2={left} y1={y(v)} y2={y(v)} stroke="#333333" strokeWidth={1} />
          <text x={left - TICK_LEN - 2} y={y(v)} dy="0.35em" textAnchor="end" fontSize={TICK_FONT} fill="#4D4D4D">
            {fmtY(v)}
          </text>
        </g>
      ))}
      {X_TICK_DAYS.map((d, k) => (
        <g key={`xt${d}`}>
          <line x1={x(d)} x2={x(d)} y1={bottom} y2={bottom + TICK_LEN} stroke="#333333" strokeWidth={1} />
          <text
            transform={`translate(${x(d) + 2},${bottom + 5.5}) rotate(-45)`}
            textAnchor="end"
            dy="0.35em"
            fontSize={XTICK_FONT}
            fill="#4D4D4D"
          >
            {X_TICK_LABELS[k]}
          </text>
        </g>
      ))}
    </g>
  );
}

function Legend() {
  const size = 10.3;
  const keyW = 17.3;
  const keyGap = 2.8;
  const itemGap = 1.5;
  const widths = LEGEND_LABELS.map((s) => measure(s, size));
  const total = widths.reduce((a, w) => a + keyW + keyGap + w + itemGap, 0) - itemGap;
  const cy = 1496;
  let cursor = 477.5 - total / 2;
  return (
    <g>
      {LEGEND_LABELS.map((label, i) => {
        const x0 = cursor;
        cursor += keyW + keyGap + widths[i] + itemGap;
        const color = LEGEND_COLORS[i];
        return (
          <g key={label}>
            <line x1={x0 + keyW / 2} x2={x0 + keyW / 2} y1={cy - 9} y2={cy + 10} stroke={color} strokeWidth={0.9} strokeDasharray="3,3" />
            <line x1={x0} x2={x0 + keyW} y1={cy} y2={cy} stroke={color} strokeWidth={2.8} />
            <text x={x0 + keyW + keyGap} y={cy} dy="0.35em" fontSize={size} fill="#000">
              {label}
            </text>
          </g>
        );
      })}
    </g>
  );
}

export default function App() {
  return (
    <svg
      width={W}
      height={H}
      viewBox={`0 0 ${W} ${H}`}
      style={{ position: "absolute", left: 0, top: 0, display: "block", background: "#fff" }}
      fontFamily={FONT}
    >
      <rect x={0} y={0} width={W} height={H} fill="#fff" />
      <text x={474.5} y={19} textAnchor="middle" fontSize={15.4} fill="#000">
        Fall 1918 Segmented Regression by Province (Capital)
      </text>
      {PROVINCES.map((_, i) => (
        <Panel key={i} index={i} />
      ))}
      <text transform="translate(24,785) rotate(-90)" textAnchor="middle" fontSize={14} fill="#000">
        Deaths
      </text>
      <Legend />
      <text x={475} y={1562} textAnchor="middle" fontSize={14} fill="#000">
        Date
      </text>
    </svg>
  );
}
